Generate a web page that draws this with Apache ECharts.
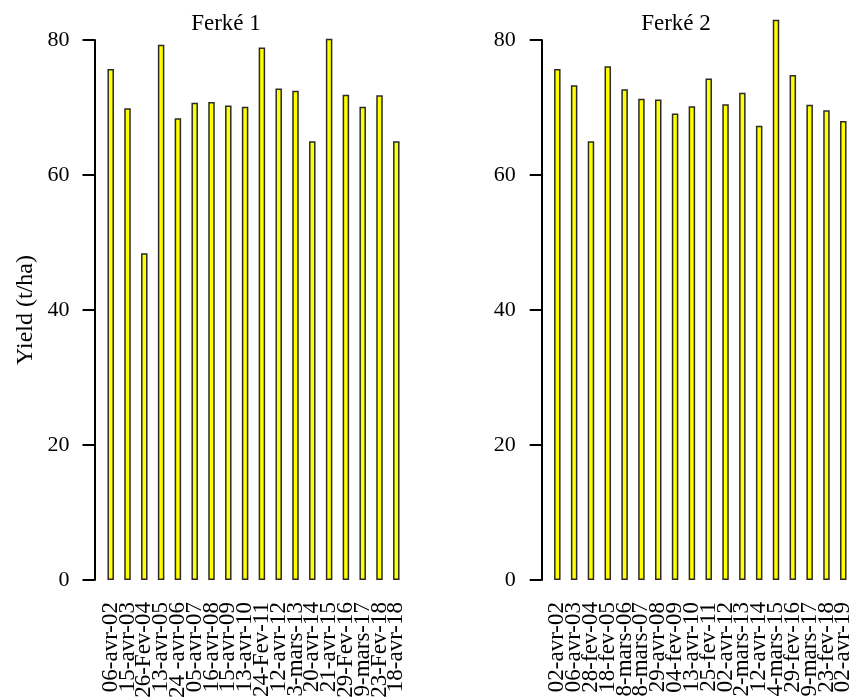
<!DOCTYPE html>
<html>
<head>
<meta charset="utf-8">
<script src="https://cdn.jsdelivr.net/npm/echarts@6/dist/echarts.min.js"></script>
<style>
html,body{margin:0;padding:0;background:#fff;}
#chart{width:858px;height:697px;}
</style>
</head>
<body>
<div id="chart"></div>
<script>
const titles = ["Ferké 1", "Ferké 2"];
const yAxisTitle = "Yield (t/ha)";
const yTicks = [0, 20, 40, 60, 80];

const dates1 = ["06-avr-02","15-avr-03","26-Fev-04","13-avr-05","24 -avr-06","05-avr-07","16-avr-08","15-avr-09","13-avr-10","24-Fev-11","12-avr-12","03-mars-13","20-avr-14","21-avr-15","29-Fev-16","19-mars-17","23-Fev-18","18-avr-18"];
const yield1 = [75.7, 69.9, 48.4, 79.3, 68.4, 70.7, 70.8, 70.3, 70.1, 78.9, 72.8, 72.5, 65.0, 80.2, 71.9, 70.1, 71.8, 65.0];

const dates2 = ["02-avr-02","06-avr-03","28-fev-04","18-fev-05","28-mars-06","18-mars-07","29-avr-08","04-fev-09","13-avr-10","25-fev-11","02-avr-12","02-mars-13","12-avr-14","14-mars-15","29-fev-16","19-mars-17","23-fev-18","02-avr-19"];
const yield2 = [75.7, 73.3, 65.0, 76.1, 72.7, 71.3, 71.2, 69.1, 70.2, 74.3, 70.5, 72.2, 67.3, 83.0, 74.8, 70.4, 69.6, 68.0];

const FONT = "'Liberation Serif', 'Times New Roman', serif";
const chart = echarts.init(document.getElementById('chart'), null, {renderer: 'canvas'});

function xAxisFor(idx, cats) {
  return {
    type: 'category', gridIndex: idx, data: cats, boundaryGap: true,
    axisLine: {show: false}, axisTick: {show: false}, splitLine: {show: false},
    axisLabel: {interval: 0, rotate: 90, margin: 22, color: '#000', fontFamily: FONT, fontSize: 23, hideOverlap: false}
  };
}
function yAxisFor(idx, offset, margin, withName) {
  const ax = {
    type: 'value', gridIndex: idx, min: yTicks[0], max: yTicks[yTicks.length - 1],
    interval: yTicks[1] - yTicks[0], offset: offset,
    axisLine: {show: true, lineStyle: {color: '#000', width: 2}},
    axisTick: {show: true, length: 12, lineStyle: {color: '#000', width: 2}},
    splitLine: {show: false},
    axisLabel: {margin: margin, color: '#000', fontFamily: FONT, fontSize: 22}
  };
  if (withName) {
    Object.assign(ax, {
      name: yAxisTitle, nameLocation: 'middle', nameRotate: 90, nameGap: 57,
      nameTextStyle: {color: '#000', fontFamily: FONT, fontSize: 24}
    });
  }
  return ax;
}
function barSeries(idx, vals) {
  return {
    type: 'bar', xAxisIndex: idx, yAxisIndex: idx, data: vals,
    barWidth: 6.5, clip: false, silent: true,
    itemStyle: {color: '#ffff00', borderColor: '#2a2a2a', borderWidth: 1.5}
  };
}

chart.setOption({
  animation: false,
  backgroundColor: '#fff',
  title: [
    {text: titles[0], left: 221, top: 7, textAlign: 'center',
     textStyle: {fontFamily: FONT, fontSize: 23, fontWeight: 'normal', color: '#000'}},
    {text: titles[1], left: 671, top: 7, textAlign: 'center',
     textStyle: {fontFamily: FONT, fontSize: 23, fontWeight: 'normal', color: '#000'}}
  ],
  grid: [
    {left: 102.3, width: 302.4, top: 40, bottom: 117, containLabel: false, outerBoundsMode: 'none'},
    {left: 548.9, width: 302.8, top: 40, bottom: 117, containLabel: false, outerBoundsMode: 'none'}
  ],
  xAxis: [xAxisFor(0, dates1), xAxisFor(1, dates2)],
  yAxis: [yAxisFor(0, 7.8, 25, true), yAxisFor(1, 7.2, 26, false)],
  series: [barSeries(0, yield1), barSeries(1, yield2)]
});
</script>
</body>
</html>
